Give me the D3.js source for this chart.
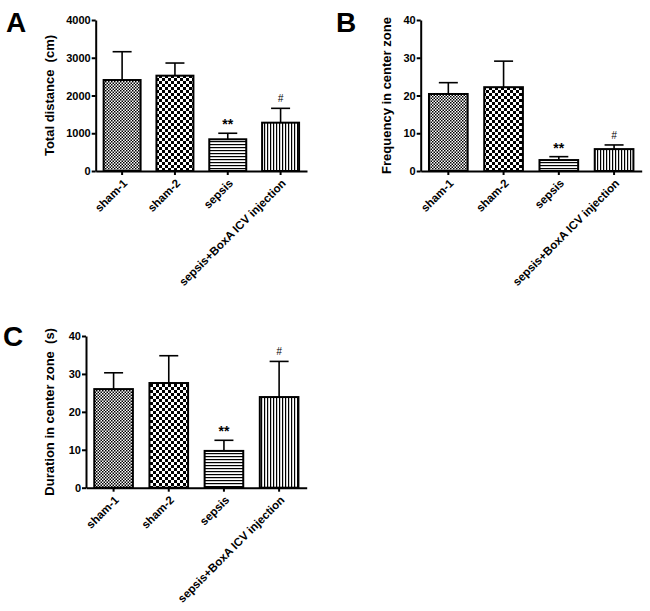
<!DOCTYPE html>
<meta charset="utf-8">
<style>
    body { margin: 0; background: #fff; }
    text { font-family: "Liberation Sans", Arial, sans-serif; }
    .tick text { font-size: 11px; font-weight: bold; fill: #000; }
    .xaxis .tick text { font-size: 11.5px; }
    .axis path, .axis line { stroke: #000; stroke-width: 2px; }
    .axis-label { font-size: 13px; font-weight: bold; fill: #000; white-space: pre; }
    .panel-letter { font-size: 28px; font-weight: bold; fill: #000; }
    .bar { stroke: #000; stroke-width: 2px; }
    .err { stroke: #000; stroke-width: 1.6px; fill: none; }
</style>
<svg width="650" height="611"></svg>
<script src="https://d3js.org/d3.v7.min.js"></script>
<script>
    // Data (mean and upper error)
    const categories = ["sham-1", "sham-2", "sepsis", "sepsis+BoxA ICV injection"];
    const patterns = ["fine", "coarse", "hlines", "vlines"];

    const distanceMean = [2410, 2525, 840, 1280];
    const distanceErr = [750, 335, 160, 380];

    const frequencyMean = [20.4, 22.2, 2.9, 5.8];
    const frequencyErr = [3.0, 6.9, 0.9, 1.1];

    const durationMean = [26.0, 27.6, 9.7, 23.9];
    const durationErr = [4.3, 7.2, 2.8, 9.4];

    const marks = ["", "", "**", "#"];

    const svg = d3.select("svg");
    const defs = svg.append("defs");

    // fill patterns like the GraphPad ones
    function checker(id, cell) {
        const p = defs.append("pattern").attr("id", id)
            .attr("patternUnits", "userSpaceOnUse")
            .attr("width", cell * 2).attr("height", cell * 2);
        p.append("rect").attr("width", cell * 2).attr("height", cell * 2).attr("fill", "#fff");
        p.append("rect").attr("width", cell).attr("height", cell).attr("fill", "#000");
        p.append("rect").attr("x", cell).attr("y", cell).attr("width", cell).attr("height", cell).attr("fill", "#000");
    }
    checker("fine", 1.5);
    checker("coarse", 3);

    const hp = defs.append("pattern").attr("id", "hlines")
        .attr("patternUnits", "userSpaceOnUse").attr("width", 3).attr("height", 3);
    hp.append("rect").attr("width", 3).attr("height", 3).attr("fill", "#fff");
    hp.append("rect").attr("width", 3).attr("height", 1.2).attr("fill", "#000");

    const vp = defs.append("pattern").attr("id", "vlines")
        .attr("patternUnits", "userSpaceOnUse").attr("width", 3).attr("height", 3);
    vp.append("rect").attr("width", 3).attr("height", 3).attr("fill", "#fff");
    vp.append("rect").attr("width", 1.2).attr("height", 3).attr("fill", "#000");

    function drawPanel(o) {
        const g = svg.append("g");

        const x = d3.scaleBand()
            .domain(categories)
            .range([o.x0, o.x1])
            .paddingInner(0.3)
            .paddingOuter(0.15);

        const y = d3.scaleLinear()
            .domain([0, o.max])
            .range([o.y0, o.yTop]);

        const rows = categories.map((c, i) => ({
            cat: c, mean: o.mean[i], err: o.err[i], pat: patterns[i], mark: marks[i]
        }));

        // error bars (upper half only, drawn before bars)
        rows.forEach(d => {
            const cx = x(d.cat) + x.bandwidth() / 2;
            g.append("line").attr("class", "err")
                .attr("x1", cx).attr("x2", cx)
                .attr("y1", y(d.mean)).attr("y2", y(d.mean + d.err));
            g.append("line").attr("class", "err")
                .attr("x1", cx - 9.5).attr("x2", cx + 9.5)
                .attr("y1", y(d.mean + d.err)).attr("y2", y(d.mean + d.err));
        });

        g.selectAll(".bar")
            .data(rows)
            .enter().append("rect")
            .attr("class", "bar")
            .attr("x", d => x(d.cat))
            .attr("y", d => y(d.mean))
            .attr("width", x.bandwidth())
            .attr("height", d => y(0) - y(d.mean))
            .attr("fill", d => `url(#${d.pat})`);

        // significance marks
        g.selectAll(".mark")
            .data(rows.filter(d => d.mark))
            .enter().append("text")
            .attr("x", d => x(d.cat) + x.bandwidth() / 2)
            .attr("y", d => y(d.mean + d.err) - (d.mark === "#" ? 6 : 4))
            .attr("text-anchor", "middle")
            .style("font-size", d => d.mark === "#" ? "10px" : "14px")
            .style("font-weight", d => d.mark === "#" ? "normal" : "bold")
            .style("font-style", d => d.mark === "#" ? "italic" : "normal")
            .text(d => d.mark);

        // axes
        g.append("g")
            .attr("class", "axis")
            .attr("transform", `translate(${o.x0},0)`)
            .call(d3.axisLeft(y).tickValues(o.ticks).tickSize(4).tickSizeOuter(0).tickPadding(1).tickFormat(d3.format("d")));

        const xa = g.append("g")
            .attr("class", "axis xaxis")
            .attr("transform", `translate(0,${o.y0})`)
            .call(d3.axisBottom(x).tickSize(4).tickSizeOuter(0));
        xa.selectAll(".tick text")
            .attr("text-anchor", "end")
            .attr("dy", null)
            .attr("y", null)
            .attr("transform", "translate(6,13) rotate(-45)");

        g.append("text")
            .attr("class", "axis-label")
            .attr("transform", `translate(${o.labelX},${(o.y0 + o.yTop) / 2}) rotate(-90)`)
            .attr("text-anchor", "middle")
            .text(o.label);

        g.append("text")
            .attr("class", "panel-letter")
            .attr("x", o.letterX)
            .attr("y", o.letterY)
            .text(o.letter);
    }

    drawPanel({
        letter: "A", letterX: 6, letterY: 32,
        x0: 95.7, x1: 307, y0: 171, yTop: 20, max: 4000,
        ticks: [0, 1000, 2000, 3000, 4000],
        mean: distanceMean, err: distanceErr,
        label: "Total distance  (cm)", labelX: 54
    });

    drawPanel({
        letter: "B", letterX: 336, letterY: 32,
        x0: 420.7, x1: 641.7, y0: 171, yTop: 20, max: 40,
        ticks: [0, 10, 20, 30, 40],
        mean: frequencyMean, err: frequencyErr,
        label: "Frequency in center zone", labelX: 391
    });

    drawPanel({
        letter: "C", letterX: 3, letterY: 346,
        x0: 86, x1: 306.7, y0: 487.7, yTop: 336, max: 40,
        ticks: [0, 10, 20, 30, 40],
        mean: durationMean, err: durationErr,
        label: "Duration in center zone  (s)", labelX: 54
    });
</script>
